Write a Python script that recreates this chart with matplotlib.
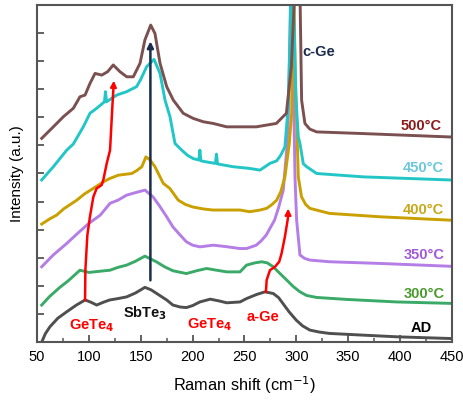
import matplotlib
matplotlib.use("Agg")
import matplotlib.pyplot as plt

plt.rcParams['font.family'] = ['Liberation Sans', 'DejaVu Sans']

# ---------------- data ----------------
ad_x = [54.5, 58, 62.5, 70, 78.6, 88, 96.3, 102, 107.5, 114, 120, 128, 136.4, 145, 154, 160, 165, 175,
        181, 188, 194, 200, 207, 217, 225, 233, 245.7, 252, 262, 269.8, 277.8, 283, 287, 293, 300,
        306, 313, 322, 332, 364, 397, 448]
ad_y = [0.0, 0.3, 0.55, 0.85, 1.08, 1.32, 1.5, 1.42, 1.32, 1.42, 1.5, 1.55, 1.61, 1.75, 1.95, 1.86,
        1.74, 1.5, 1.32, 1.25, 1.23, 1.30, 1.43, 1.53, 1.47, 1.40, 1.43, 1.55, 1.70, 1.79, 1.73, 1.58,
        1.38, 1.08, 0.78, 0.58, 0.43, 0.36, 0.31, 0.25, 0.19, 0.13]

c300_x = [54.5, 62, 72, 80, 91.4, 100, 110, 120.4, 128, 136.4, 145, 154, 165, 173, 181, 194,
          205, 213.5, 223, 233, 245.7, 252, 260, 266.6, 272, 277.8, 284, 290.7, 297, 303.5, 310,
          319.6, 348.5, 397, 448]
c300_y = [1.32, 1.62, 1.95, 2.18, 2.56, 2.48, 2.52, 2.56, 2.66, 2.74, 2.88, 3.06, 2.86, 2.68, 2.54,
          2.44, 2.55, 2.62, 2.56, 2.50, 2.50, 2.74, 2.82, 2.86, 2.82, 2.68, 2.45, 2.21, 1.98, 1.79,
          1.66, 1.59, 1.52, 1.43, 1.38]

c350_x = [54.5, 65.6, 78.6, 90, 99.8, 111, 120.4, 128, 136.4, 145, 154, 161.8, 168, 175, 181, 187,
          194, 200, 207, 220, 232, 245.7, 252, 261.4, 266, 271, 274.6, 279, 283, 287.4, 290.7, 292.2,
          293.9, 295, 296.5, 298.7, 300.3, 303.5, 308, 313, 332, 380.6, 448]
c350_y = [2.68, 3.10, 3.51, 3.90, 4.22, 4.52, 4.94, 5.05, 5.23, 5.32, 5.41, 5.17, 4.85, 4.46, 4.10,
          3.85, 3.57, 3.45, 3.39, 3.45, 3.40, 3.33, 3.33, 3.45, 3.60, 3.81, 4.05, 4.34, 4.80, 5.41,
          6.83, 7.9, 11.0, 14.0, 11.0, 5.88, 4.34, 3.10, 2.98, 2.92, 2.86, 2.80, 2.70]

c400_x = [54.5, 62, 68.9, 76, 88.3, 96, 104.3, 113.9, 120, 128.4, 141.3, 146, 151, 155, 159, 163.7,
          171.7, 178, 186.2, 193, 200, 210, 219.6, 245.7, 255, 265, 271.4, 276, 281, 285, 289,
          293.2, 295.5, 297, 299, 301.9, 305, 309, 313, 332, 380.6, 448]
c400_y = [4.20, 4.38, 4.52, 4.75, 5.05, 5.28, 5.47, 5.70, 5.82, 5.94, 6.00, 6.10, 6.24, 6.59, 6.48,
          6.24, 5.65, 5.47, 5.05, 4.90, 4.81, 4.74, 4.70, 4.70, 4.64, 4.70, 4.76, 4.88, 5.05, 5.35,
          5.88, 7.07, 8.14, 14.0, 9.5, 5.88, 5.17, 4.90, 4.76, 4.58, 4.46, 4.34]

c450_x = [54.5, 65.7, 78.6, 85, 94.6, 101, 107.5, 115, 116, 117, 126.8, 136.4, 146, 150, 155.7,
          162.8, 168.6, 173.4, 178.2, 183, 189.5, 195, 200.6, 206, 207, 208, 213.5, 222, 223, 224,
          239.2, 255, 265, 274.6, 281, 285, 289, 292.2, 296, 299.5, 301.9, 303.5, 306.7, 310,
          319.6, 364.5, 448]
c450_y = [5.77, 6.24, 6.83, 7.05, 7.66, 8.14, 8.32, 8.55, 8.91, 8.55, 8.79, 8.91, 9.09, 9.35, 9.80,
          10.06, 9.56, 8.61, 8.02, 7.07, 6.83, 6.65, 6.53, 6.48, 6.83, 6.45, 6.41, 6.36, 6.69, 6.34,
          6.24, 6.18, 6.12, 6.36, 6.45, 6.65, 6.95, 8.4, 14.0, 8.8, 7.3, 7.07, 6.35, 6.24,
          6.00, 5.88, 5.77]

c500_x = [54.5, 65.7, 75.4, 85, 91.4, 96.3, 101, 105.9, 112.4, 118, 123.5, 130, 136.5, 142.8, 149.3,
          154, 159.6, 163.7, 168.6, 175, 181.4, 191, 200.6, 210.3, 219.9, 232.8, 239, 261.4, 280.7,
          290.4, 295.2, 298.4, 301, 303.5, 305.1, 308.3, 313, 319.6, 364.5, 448]
c500_y = [7.25, 7.66, 8.02, 8.32, 8.73, 8.79, 9.20, 9.56, 9.50, 9.62, 9.86, 9.62, 9.44, 9.44, 9.92,
          10.75, 11.28, 10.98, 9.92, 9.09, 8.61, 8.14, 7.96, 7.84, 7.78, 7.66, 7.66, 7.66, 7.78,
          8.14, 9.80, 12.5, 14.0, 12.5, 8.61, 7.78, 7.58, 7.48, 7.42, 7.30]

series = [
    ("AD", ad_x, ad_y, "#4f4f4f", "#000000", 430.5, 0.50),
    ("300°C", c300_x, c300_y, "#3aaa68", "#4a9a2e", 443, 1.71),
    ("350°C", c350_x, c350_y, "#b57de6", "#a259d8", 443, 3.10),
    ("400°C", c400_x, c400_y, "#c9a000", "#c8a818", 442, 4.70),
    ("450°C", c450_x, c450_y, "#22c6c6", "#6ac8da", 442, 6.19),
    ("500°C", c500_x, c500_y, "#7b5050", "#8b1c1c", 440.5, 7.69),
]

# ---------------- figure ----------------
fig = plt.figure(figsize=(4.63, 4.03), dpi=100)
ax = fig.add_axes([0.080, 0.151, 0.896, 0.837])

for name, xs, ys, lc, tc, tx, ty in series:
    ax.plot(xs, ys, color=lc, lw=2.1, solid_joinstyle='round', zorder=2)
    ax.text(tx, ty, name, color=tc, fontsize=10.5, fontweight='bold', ha='right', va='center', zorder=5)

# red arrow GeTe4
rx = [96.3, 96.6, 98.5, 101, 104.3, 107.5, 112.3, 113.9, 117.2, 120.4, 122.6, 123.6]
ry = [1.5, 2.56, 3.8, 4.46, 5.17, 5.47, 5.59, 5.77, 6.36, 6.83, 8.37, 9.0]
ax.plot(rx, ry, color='#ff0000', lw=1.8, zorder=4)
ax.annotate('', xy=(124.2, 9.4), xytext=(123.6, 9.0),
            arrowprops=dict(arrowstyle='-|>', color='#ff0000', lw=1.5, mutation_scale=9), zorder=4)

# navy arrow SbTe3
ax.annotate('', xy=(159.3, 10.8), xytext=(159.3, 2.1),
            arrowprops=dict(arrowstyle='-|>', color='#1c2c4c', lw=1.8, mutation_scale=9), zorder=4)

# red arrow a-Ge
gx = [270.7, 271.4, 274.6, 279.4, 283.5, 285.8, 289, 291.6, 292.0]
gy = [1.79, 2.21, 2.56, 2.68, 2.86, 3.16, 3.75, 4.34, 4.45]
ax.plot(gx, gy, color='#ff0000', lw=1.8, zorder=4)
ax.annotate('', xy=(292.2, 4.85), xytext=(292.0, 4.45),
            arrowprops=dict(arrowstyle='-|>', color='#ff0000', lw=1.5, mutation_scale=9), zorder=4)

# annotations
ax.text(306, 10.33, 'c-Ge', color='#1c2c4c', fontsize=10.5, fontweight='bold', ha='left', va='center')
ax.text(102.7, 0.6, 'GeTe$_\\mathbf{4}$', color='#ff0000', fontsize=10.5, fontweight='bold', ha='center', va='center')
ax.text(154, 1.02, 'SbTe$_\\mathbf{3}$', color='#111111', fontsize=10.5, fontweight='bold', ha='center', va='center')
ax.text(216.7, 0.64, 'GeTe$_\\mathbf{4}$', color='#ff0000', fontsize=10.5, fontweight='bold', ha='center', va='center')
ax.text(268, 0.9, 'a-Ge', color='#ff0000', fontsize=10.5, fontweight='bold', ha='center', va='center')

ax.set_xlim(50, 450)
ax.set_ylim(0, 12)
ax.set_xticks(range(50, 451, 50))
ax.set_xticks(range(75, 451, 50), minor=True)
ax.set_yticks(range(0, 13))
ax.set_yticklabels([])
ax.tick_params(axis='x', which='major', direction='in', length=5, width=1.3, color='#555555',
               labelsize=10.5, pad=6, top=False)
ax.tick_params(axis='x', which='minor', direction='in', length=3, width=1.1, color='#555555', top=False)
ax.tick_params(axis='y', which='major', direction='in', length=5, width=1.3, color='#555555', right=False)
for sp in ax.spines.values():
    sp.set_color('#555555')
    sp.set_linewidth(1.5)

ax.set_xlabel('Raman shift (cm$^{-1}$)', fontsize=11.8, labelpad=7)
ax.set_ylabel('Intensity (a.u.)', fontsize=11, labelpad=6)

fig.savefig('out.png', dpi=100)
